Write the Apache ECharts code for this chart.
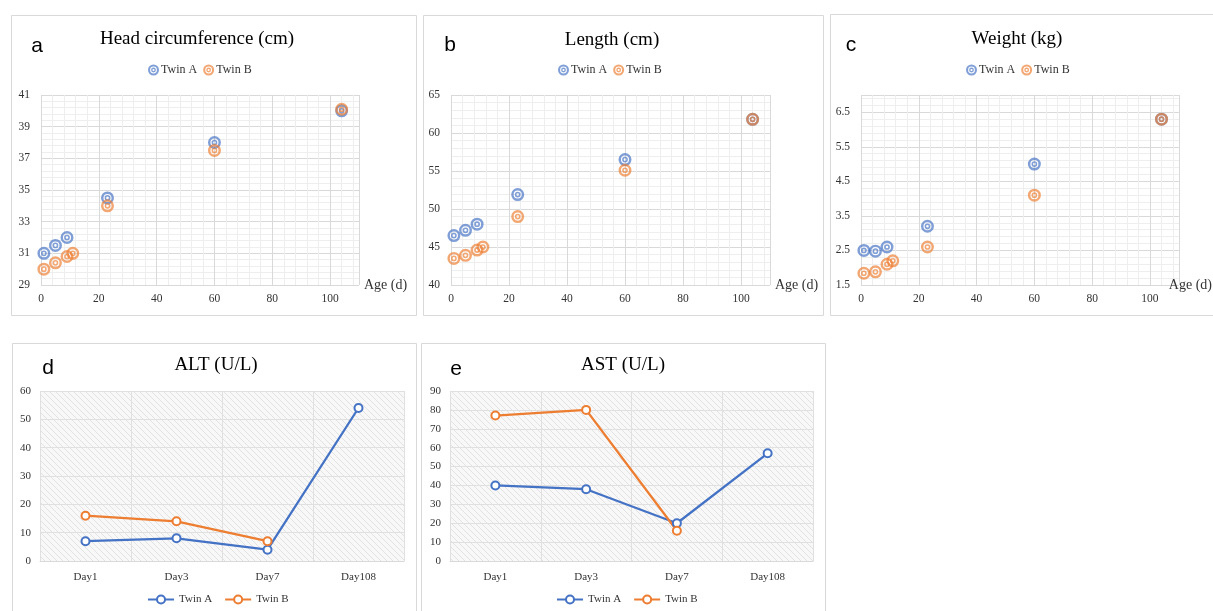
<!DOCTYPE html>
<html><head><meta charset="utf-8">
<script src="https://cdn.jsdelivr.net/npm/echarts@6/dist/echarts.min.js"></script>
<style>html,body{margin:0;padding:0;background:#fff}#c{width:1213px;height:611px}</style>
</head><body><div id="c"></div><script>
// ---------- data ----------
const ageA = [1, 5, 9, 23, 60, 104];
const ageB = [1, 5, 9, 11, 23, 60, 104];
const headA = [31, 31.5, 32, 34.5, 38, 40];
const headB = [30, 30.4, 30.8, 31, 34, 37.5, 40.1];
const lenA = [46.5, 47.2, 48, 51.9, 56.5, 61.8];
const lenB = [43.5, 43.9, 44.6, 45, 49, 55.1, 61.8];
const wtA = [2.5, 2.48, 2.6, 3.2, 5.0, 6.3];
const wtB = [1.84, 1.88, 2.1, 2.2, 2.6, 4.1, 6.3];
const days = ['Day1', 'Day3', 'Day7', 'Day108'];
const altA = [7, 8, 4, 54];
const altB = [16, 14, 7, null];
const astA = [40, 38, 20, 57];
const astB = [77, 80, 16, null];
const seriesNames = ['Twin A', 'Twin B'];
const panelTitles = ['Head circumference (cm)', 'Length (cm)', 'Weight (kg)', 'ALT (U/L)', 'AST (U/L)'];
const panelLetters = ['a', 'b', 'c', 'd', 'e'];
const xAxisName = 'Age (d)';

// ---------- styles ----------
const SERIF = '"Liberation Serif","Times New Roman",serif';
const SANS = '"Liberation Sans",Arial,sans-serif';
const BLUE = '#4472C4', ORANGE = '#ED7D31';
const RING = 'path://M0,-10A10,10 0 1,1 0,10A10,10 0 1,1 0,-10Z M0,-6.2A6.2,6.2 0 1,0 0,6.2A6.2,6.2 0 1,0 0,-6.2Z M0,-4.4A4.4,4.4 0 1,1 0,4.4A4.4,4.4 0 1,1 0,-4.4Z M0,-2A2,2 0 1,0 0,2A2,2 0 1,0 0,-2Z';

const pc = document.createElement('canvas');
pc.width = 6; pc.height = 6;
const g = pc.getContext('2d');
g.fillStyle = '#f8f8f8'; g.fillRect(0, 0, 6, 6);
g.strokeStyle = '#e2e2e2'; g.lineWidth = 1;
g.beginPath(); g.moveTo(-1, -1); g.lineTo(7, 7); g.moveTo(-1, 5); g.lineTo(1, 7); g.moveTo(5, -1); g.lineTo(7, 1); g.stroke();
const hatch = { image: pc, repeat: 'repeat' };

const pair = (xs, ys) => xs.map((x, i) => [x, ys[i]]);

const grids = [
  { left: 41, top: 95, width: 318, height: 190 },
  { left: 451, top: 95, width: 319, height: 190 },
  { left: 861, top: 95, width: 319, height: 190 },
  { left: 40, top: 391, width: 364, height: 170, show: true, backgroundColor: hatch, borderWidth: 0 },
  { left: 450, top: 391, width: 363, height: 170, show: true, backgroundColor: hatch, borderWidth: 0 }
];

function scatterX(gi, gap) {
  return {
    type: 'value', gridIndex: gi, min: 0, max: 110, interval: 20,
    name: xAxisName, nameLocation: 'end', nameGap: gap,
    nameTextStyle: { fontFamily: SERIF, fontSize: 14, color: '#333', padding: [6, 0, 0, 0] },
    axisLine: { show: false }, axisTick: { show: false },
    axisLabel: { showMaxLabel: false, fontFamily: SERIF, fontSize: 11.5, color: '#333', margin: 8 },
    splitLine: { show: true, lineStyle: { color: '#d9d9d9' } },
    minorTick: { show: false, splitNumber: 5 },
    minorSplitLine: { show: true, lineStyle: { color: '#eeeeee' } }
  };
}
function scatterY(gi, min, max, interval) {
  return {
    type: 'value', gridIndex: gi, min: min, max: max, interval: interval,
    axisLine: { show: false }, axisTick: { show: false },
    axisLabel: { showMaxLabel: (max - min) % interval === 0, fontFamily: SERIF, fontSize: 11.5, color: '#333', margin: 11 },
    splitLine: { show: true, lineStyle: { color: '#d9d9d9' } },
    minorTick: { show: false, splitNumber: 5 },
    minorSplitLine: { show: true, lineStyle: { color: '#eeeeee' } }
  };
}
function catX(gi) {
  return {
    type: 'category', gridIndex: gi, data: days, boundaryGap: true,
    axisLine: { show: true, lineStyle: { color: '#d9d9d9' } }, axisTick: { show: false },
    axisLabel: { fontFamily: SERIF, fontSize: 11, color: '#333', margin: 11 },
    splitLine: { show: true, lineStyle: { color: '#e0e0e0' } }
  };
}
function lineY(gi, max) {
  return {
    type: 'value', gridIndex: gi, min: 0, max: max, interval: 10,
    axisLine: { show: false }, axisTick: { show: false },
    axisLabel: { fontFamily: SERIF, fontSize: 11, color: '#333', margin: 9 },
    splitLine: { show: true, lineStyle: { color: '#e0e0e0' } }
  };
}

function lineSeries(name, gi, data, color) {
  return {
    type: 'line', name: name, xAxisIndex: gi, yAxisIndex: gi, data: data,
    symbol: 'emptyCircle', symbolSize: 8, connectNulls: false,
    lineStyle: { color: color, width: 2.3 },
    itemStyle: { color: color, borderWidth: 1.7 }
  };
}
function scatterSeries(name, gi, data, color, op) {
  return {
    type: 'scatter', name: name, xAxisIndex: gi, yAxisIndex: gi, data: data,
    symbol: RING, symbolSize: 13,
    itemStyle: { color: color, opacity: op }
  };
}

const series = [
  lineSeries(seriesNames[0], 3, altA, BLUE),
  lineSeries(seriesNames[1], 3, altB, ORANGE),
  lineSeries(seriesNames[0], 4, astA, BLUE),
  lineSeries(seriesNames[1], 4, astB, ORANGE),
  scatterSeries(seriesNames[0], 0, pair(ageA, headA), BLUE, 0.68),
  scatterSeries(seriesNames[1], 0, pair(ageB, headB), ORANGE, 0.68),
  scatterSeries(seriesNames[0], 1, pair(ageA, lenA), BLUE, 0.68),
  scatterSeries(seriesNames[1], 1, pair(ageB, lenB), ORANGE, 0.68),
  scatterSeries(seriesNames[0], 2, pair(ageA, wtA), BLUE, 0.68),
  scatterSeries(seriesNames[1], 2, pair(ageB, wtB), ORANGE, 0.68)
];

function scatterLegend(left) {
  return {
    left: left, top: 64, padding: 0, itemGap: 6, itemWidth: 11, itemHeight: 11,
    itemStyle: { borderWidth: 0, opacity: 0.68 },
    textStyle: { fontFamily: SERIF, fontSize: 12, color: '#333', padding: [0, 0, 0, -3] },
    data: seriesNames.map(n => ({ name: n, icon: RING }))
  };
}
function lineLegend(left) {
  return {
    left: left, top: 594, padding: 0, itemGap: 12, itemWidth: 26, itemHeight: 10,
    textStyle: { fontFamily: SERIF, fontSize: 11, color: '#333' },
    data: seriesNames
  };
}

const titlePos = [[197, 39], [612, 40], [1017, 39], [216, 365], [623, 365]];
const letterPos = [[37, 46], [450, 45], [851, 45], [48, 368], [456, 369]];
const boxes = [[11, 15, 405, 300], [423, 15, 400, 300], [830, 14, 390, 301], [12, 343, 404, 280], [421, 343, 404, 280]];

const graphics = [];
boxes.forEach(b => graphics.push({ type: 'rect', z: -10, shape: { x: b[0] + 0.5, y: b[1] + 0.5, width: b[2], height: b[3] }, style: { fill: 'none', stroke: '#d9d9d9', lineWidth: 1 } }));
panelTitles.forEach((t, i) => graphics.push({ type: 'text', x: titlePos[i][0], y: titlePos[i][1], style: { text: t, font: '19px ' + SERIF, fill: '#000', textAlign: 'center', textVerticalAlign: 'middle', align: 'center', verticalAlign: 'middle' } }));
panelLetters.forEach((t, i) => graphics.push({ type: 'text', x: letterPos[i][0], y: letterPos[i][1], style: { text: t, font: '21px ' + SANS, fill: '#000', textAlign: 'center', textVerticalAlign: 'middle', align: 'center', verticalAlign: 'middle' } }));

const option = {
  animation: false,
  backgroundColor: '#fff',
  grid: grids,
  xAxis: [scatterX(0, 5), scatterX(1, 5), scatterX(2, -10), catX(3), catX(4)],
  yAxis: [scatterY(0, 29, 41, 2), scatterY(1, 40, 65, 5), scatterY(2, 1.5, 7, 1), lineY(3, 60), lineY(4, 90)],
  legend: [scatterLegend(148), scatterLegend(558), scatterLegend(966), lineLegend(147), lineLegend(556)],
  graphic: { elements: graphics },
  series: series
};
const chart = echarts.init(document.getElementById('c'));
chart.setOption(option);
</script></body></html>
